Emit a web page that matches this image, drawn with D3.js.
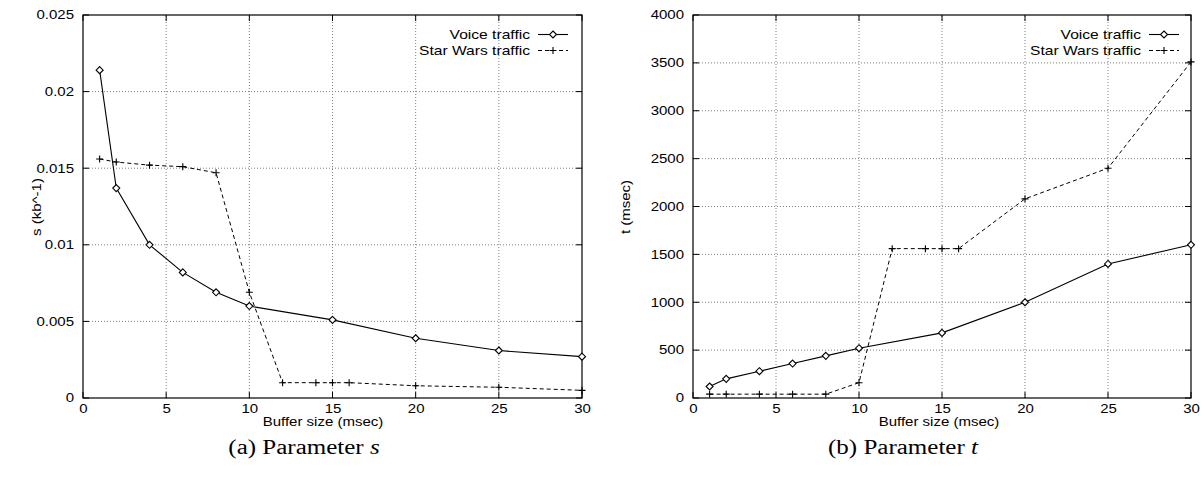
<!DOCTYPE html>
<html>
<head>
<meta charset="utf-8">
<script src="https://cdn.jsdelivr.net/npm/d3@7"></script>
<style>
  html, body { margin: 0; padding: 0; background: #fff; }
  svg text { font-family: "Liberation Sans", Arial, Helvetica, sans-serif; fill: #000; }
  .caption { font-family: "Liberation Serif", "Times New Roman", serif; }
</style>
</head>
<body>
<svg id="fig" width="1202" height="491"></svg>
<script>
// Buffer sizes (msec) at which each traffic trace was measured
const voiceBuffer = [1, 2, 4, 6, 8, 10, 15, 20, 25, 30];
const starWarsBuffer = [1, 2, 4, 6, 8, 10, 12, 14, 15, 16, 20, 25, 30];

// Parameter s (kb^-1)
const voiceS = [0.0214, 0.0137, 0.0100, 0.0082, 0.0069, 0.0060, 0.0051, 0.0039, 0.0031, 0.0027];
const starWarsS = [0.0156, 0.0154, 0.0152, 0.0151, 0.0147, 0.0069, 0.0010, 0.0010, 0.0010, 0.0010, 0.0008, 0.0007, 0.0005];

// Parameter t (msec)
const voiceT = [120, 200, 280, 360, 440, 520, 680, 1000, 1400, 1600];
const starWarsT = [40, 40, 40, 40, 40, 160, 1560, 1560, 1560, 1560, 2080, 2400, 3510];

// Axis ticks
const xTicks = [0, 5, 10, 15, 20, 25, 30];
const sTicks = [0, 0.005, 0.01, 0.015, 0.02, 0.025];
const sTickLabels = ["0", "0.005", "0.01", "0.015", "0.02", "0.025"];
const tTicks = [0, 500, 1000, 1500, 2000, 2500, 3000, 3500, 4000];

const seriesNames = ["Voice traffic", "Star Wars traffic"];
const xTitle = "Buffer size (msec)";

const svg = d3.select("#fig");
const FS = 12;      // sans text size
const WIDE = 1.25;  // horizontal widening of the sans lettering

// widen a text element along its baseline by a factor, keeping its anchor
function widen(sel, k) {
  sel.each(function () {
    const w = this.getComputedTextLength();
    d3.select(this).attr("textLength", w * k).attr("lengthAdjust", "spacingAndGlyphs");
  });
}

function drawPanel(opt) {
  const g = svg.append("g");
  const x = d3.scaleLinear().domain([0, 30]).range([opt.x0, opt.x1]);
  const y = d3.scaleLinear().domain(opt.yDomain).range([398, 15]);

  // dotted grid at interior ticks
  const grid = g.append("g").attr("stroke", "#808080").attr("stroke-width", 1)
    .attr("stroke-dasharray", "1,2");
  xTicks.slice(1, -1).forEach(v => {
    grid.append("line").attr("x1", x(v)).attr("x2", x(v))
      .attr("y1", y.range()[0]).attr("y2", y.range()[1]);
  });
  opt.yTicks.slice(1, -1).forEach(v => {
    grid.append("line").attr("x1", opt.x0).attr("x2", opt.x1)
      .attr("y1", y(v)).attr("y2", y(v));
  });

  // axes with tick labels
  const xAxis = d3.axisBottom(x).tickValues(xTicks).tickSize(0).tickPadding(6)
    .tickFormat(d3.format("d"));
  const gx = g.append("g").attr("transform", `translate(0,398)`).call(xAxis);
  const yAxis = d3.axisLeft(y).tickValues(opt.yTicks).tickSize(0).tickPadding(9)
    .tickFormat((d, i) => opt.yLabels[i]);
  const gy = g.append("g").attr("transform", `translate(${opt.x0},0)`).call(yAxis);
  [gx, gy].forEach(a => {
    a.select(".domain").remove();
    a.selectAll("text").attr("font-size", FS)
      .style("font-family", '"Liberation Sans", Arial, sans-serif');
    widen(a.selectAll("text"), WIDE);
  });

  // inward tick marks on all four sides
  const tk = g.append("g").attr("stroke", "#000").attr("stroke-width", 1);
  xTicks.forEach(v => {
    tk.append("line").attr("x1", x(v)).attr("x2", x(v)).attr("y1", 398).attr("y2", 392);
    tk.append("line").attr("x1", x(v)).attr("x2", x(v)).attr("y1", 15).attr("y2", 21);
  });
  opt.yTicks.forEach(v => {
    tk.append("line").attr("x1", opt.x0).attr("x2", opt.x0 + 6).attr("y1", y(v)).attr("y2", y(v));
    tk.append("line").attr("x1", opt.x1).attr("x2", opt.x1 - 6).attr("y1", y(v)).attr("y2", y(v));
  });

  // frame
  g.append("rect").attr("x", opt.x0).attr("y", 15)
    .attr("width", opt.x1 - opt.x0).attr("height", 383)
    .attr("fill", "none").attr("stroke", "#000").attr("stroke-width", 1.2);

  // axis titles
  g.append("text").attr("font-size", FS).attr("text-anchor", "middle")
    .attr("x", opt.xTitleX).attr("y", 426).text(xTitle).call(widen, WIDE);
  g.append("text").attr("font-size", FS).attr("text-anchor", "middle")
    .attr("transform", `translate(${opt.yTitleX},207) rotate(-90)`).text(opt.yTitle)
    .call(widen, WIDE);

  const line = d3.line().x(d => x(d[0])).y(d => y(d[1]));
  const voice = voiceBuffer.map((b, i) => [b, opt.voice[i]]);
  const sw = starWarsBuffer.map((b, i) => [b, opt.sw[i]]);

  const diamond = (cx, cy) => `M${cx},${cy - 3.5}L${cx + 3.5},${cy}L${cx},${cy + 3.5}L${cx - 3.5},${cy}Z`;
  const plus = (cx, cy) => `M${cx - 3.5},${cy}H${cx + 3.5}M${cx},${cy - 3.5}V${cy + 3.5}`;

  // Voice traffic: solid line with open diamonds
  g.append("path").datum(voice).attr("d", line)
    .attr("fill", "none").attr("stroke", "#000").attr("stroke-width", 1.1);
  g.append("g").selectAll("path").data(voice).join("path")
    .attr("d", d => diamond(x(d[0]), y(d[1])))
    .attr("fill", "#fff").attr("stroke", "#000").attr("stroke-width", 1.1);

  // Star Wars traffic: dashed line with plus marks
  g.append("path").datum(sw).attr("d", line)
    .attr("fill", "none").attr("stroke", "#000").attr("stroke-width", 1)
    .attr("stroke-dasharray", "4,3");
  g.append("g").selectAll("path").data(sw).join("path")
    .attr("d", d => plus(x(d[0]), y(d[1])))
    .attr("fill", "none").attr("stroke", "#000").attr("stroke-width", 1.1);

  // legend
  const lg = g.append("g");
  seriesNames.forEach((name, i) => {
    const by = 39 + i * 16;
    lg.append("text").attr("font-size", FS + 1).attr("text-anchor", "end")
      .attr("x", opt.legendTextX).attr("y", by).text(name).call(widen, 1.2);
    const ly = by - 4.5;
    const lx0 = opt.legendTextX + 8, lx1 = opt.legendTextX + 38, lc = (lx0 + lx1) / 2;
    lg.append("line").attr("x1", lx0).attr("x2", lx1).attr("y1", ly).attr("y2", ly)
      .attr("stroke", "#000").attr("stroke-width", i === 0 ? 1.1 : 1)
      .attr("stroke-dasharray", i === 0 ? null : "4,3");
    lg.append("path").attr("d", i === 0 ? diamond(lc, ly) : plus(lc, ly))
      .attr("fill", i === 0 ? "#fff" : "none").attr("stroke", "#000").attr("stroke-width", 1.1);
  });

  // panel caption
  const cap = g.append("text").attr("class", "caption").attr("font-size", 20)
    .attr("text-anchor", "middle").attr("x", opt.captionX).attr("y", 454);
  cap.append("tspan").text(opt.captionLead);
  cap.append("tspan").attr("font-style", "italic").text(opt.captionVar);
  cap.call(widen, 1.25);
}

drawPanel({
  x0: 83, x1: 582,
  yDomain: [0, 0.025], yTicks: sTicks, yLabels: sTickLabels,
  voice: voiceS, sw: starWarsS,
  yTitle: "s (kb^-1)", yTitleX: 41, xTitleX: 323,
  legendTextX: 530, captionX: 304,
  captionLead: "(a) Parameter ", captionVar: "s"
});

drawPanel({
  x0: 693, x1: 1191,
  yDomain: [0, 4000], yTicks: tTicks, yLabels: tTicks.map(String),
  voice: voiceT, sw: starWarsT,
  yTitle: "t (msec)", yTitleX: 630, xTitleX: 939,
  legendTextX: 1141, captionX: 903,
  captionLead: "(b) Parameter ", captionVar: "t"
});
</script>
</body>
</html>
